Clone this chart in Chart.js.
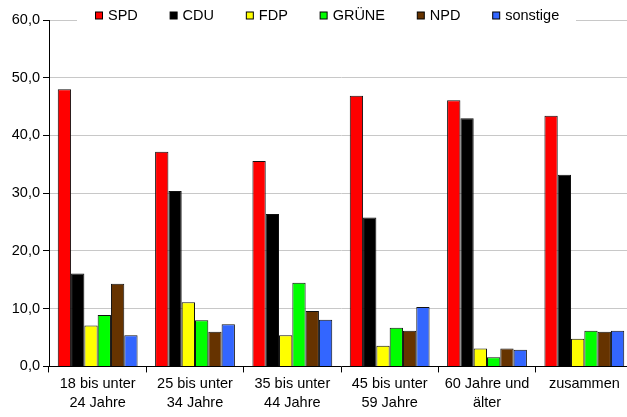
<!DOCTYPE html>
<html>
<head>
<meta charset="utf-8">
<script src="https://cdn.jsdelivr.net/npm/chart.js@4/dist/chart.umd.min.js"></script>
<style>
  html, body { margin: 0; padding: 0; background: #fff; overflow: hidden; }
  #clip { width: 627px; height: 417px; overflow: hidden; }
  #wrap { width: 633px; height: 417px; position: relative; }
</style>
</head>
<body>
<div id="clip"><div id="wrap"><canvas id="chart"></canvas></div></div>
<script>
// age groups (x categories)
const categories = [
  ['18 bis unter', '24 Jahre'],
  ['25 bis unter', '34 Jahre'],
  ['35 bis unter', '44 Jahre'],
  ['45 bis unter', '59 Jahre'],
  ['60 Jahre und', 'älter'],
  ['zusammen']
];

// vote share in percent per party
const spd      = [48.0, 37.2, 35.6, 46.9, 46.1, 43.4];
const cdu      = [16.1, 30.4, 26.4, 25.8, 43.0, 33.2];
const fdp      = [7.1, 11.1, 5.4, 3.6, 3.1, 4.8];
const gruene   = [8.9, 8.0, 14.5, 6.7, 1.6, 6.2];
const npd      = [14.3, 6.0, 9.6, 6.2, 3.1, 6.0];
const sonstige = [5.4, 7.3, 8.1, 10.3, 2.9, 6.2];

const yTicks = [0, 10, 20, 30, 40, 50, 60];

const FONT = '"Liberation Sans", Arial, sans-serif';
const FSIZE = 14.5;

function ds(label, data, color) {
  return {
    label: label,
    data: data,
    backgroundColor: color,
    borderColor: '#111',
    borderWidth: 1,
    barPercentage: 1.0,
    categoryPercentage: 0.82
  };
}

// legend sits on the top gridline, white box hides the line behind it
const topLegend = {
  id: 'topLegend',
  afterDraw(chart) {
    const ctx = chart.ctx;
    const y = chart.chartArea.top - 4;
    ctx.save();
    ctx.fillStyle = '#fff';
    ctx.fillRect(77, y - 9, 499, 18);
    ctx.font = FSIZE + 'px ' + FONT;
    ctx.textBaseline = 'middle';
    let x = 95.5;
    chart.data.datasets.forEach(d => {
      ctx.fillStyle = d.backgroundColor;
      ctx.fillRect(x, y - 4, 7, 7);
      ctx.strokeStyle = '#000';
      ctx.lineWidth = 1;
      ctx.strokeRect(x, y - 4, 7, 7);
      ctx.fillStyle = '#000';
      ctx.fillText(d.label, x + 12.5, y);
      x += 12.5 + ctx.measureText(d.label).width + 32.3;
    });
    ctx.restore();
  }
};

new Chart(document.getElementById('chart').getContext('2d'), {
  type: 'bar',
  data: {
    labels: categories,
    datasets: [
      ds('SPD', spd, '#ff0000'),
      ds('CDU', cdu, '#000000'),
      ds('FDP', fdp, '#ffff00'),
      ds('GRÜNE', gruene, '#00ff00'),
      ds('NPD', npd, '#663300'),
      ds('sonstige', sonstige, '#3366ff')
    ]
  },
  options: {
    responsive: true,
    maintainAspectRatio: false,
    animation: false,
    layout: { padding: { top: 20, right: 0, bottom: 0, left: 0 } },
    plugins: {
      legend: { display: false },
      tooltip: { enabled: false }
    },
    scales: {
      x: {
        afterFit(axis) { axis.height = axis.height + 2; },
        grid: {
          offset: true,
          drawOnChartArea: false,
          drawTicks: true,
          tickLength: 6,
          color: '#000'
        },
        border: { color: '#000', width: 1 },
        ticks: {
          color: '#000',
          padding: 2,
          maxRotation: 0,
          autoSkip: false,
          font: { family: FONT, size: FSIZE, lineHeight: 1.33 }
        }
      },
      y: {
        min: 0,
        max: 60,
        afterBuildTicks(axis) {
          axis.ticks = yTicks.map(v => ({ value: v }));
        },
        afterFit(axis) { axis.width = 49; },
        grid: {
          color: '#c8c8c8',
          lineWidth: 1,
          tickLength: 6,
          tickColor: '#000'
        },
        border: { color: '#000', width: 1 },
        ticks: {
          color: '#000',
          padding: 3,
          font: { family: FONT, size: FSIZE },
          callback: v => v.toFixed(1).replace('.', ',')
        }
      }
    }
  },
  plugins: [topLegend]
});
</script>
</body>
</html>
